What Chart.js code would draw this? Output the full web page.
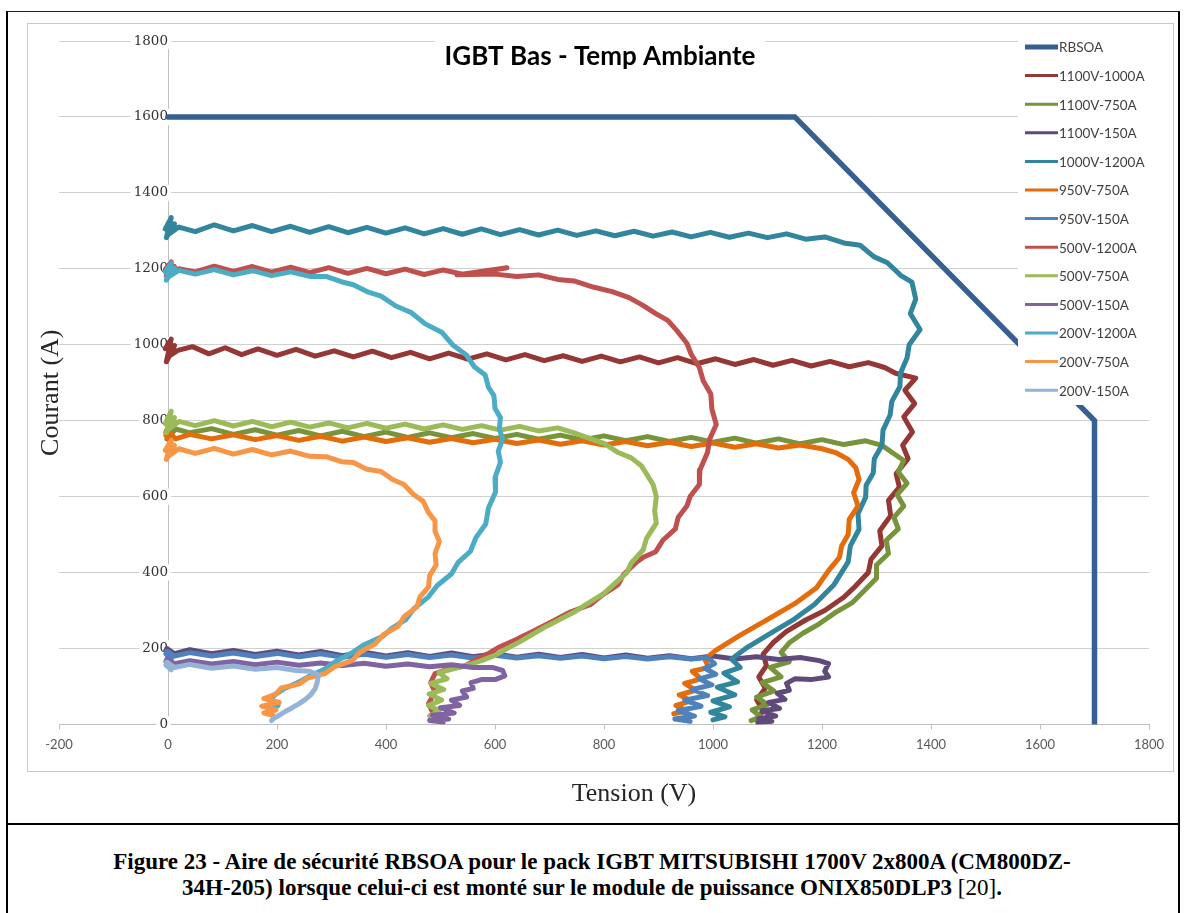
<!DOCTYPE html>
<html>
<head>
<meta charset="utf-8">
<title>IGBT Bas - Temp Ambiante</title>
<script src="https://cdn.jsdelivr.net/npm/chart.js@4.4.0/dist/chart.umd.min.js"></script>
<style>
  html, body { margin: 0; padding: 0; background: #fff; }
  body { width: 1184px; height: 913px; position: relative; overflow: hidden; }
  .frame { position: absolute; left: 6px; top: 11px; width: 1170px; height: 920px;
           border-left: 2px solid #000; border-right: 2px solid #000; border-top: 1px solid #222; }
  .sep { position: absolute; left: 6px; top: 823px; width: 1174px; border-top: 2px solid #000; }
  .chartbox { position: absolute; left: 27px; top: 23px; width: 1145px; height: 747px; border: 1px solid #c8c8c8; }
  #wrap { position: absolute; left: 8px; top: 12px; width: 1168px; height: 811px; }
  .caption { position: absolute; left: 8px; width: 1168px; top: 849px; text-align: center;
             font: bold 23px "Liberation Serif", "Times New Roman", serif; line-height: 26px; color: #000; }
  .caption .ref { font-weight: normal; }
</style>
</head>
<body>
<div class="frame"></div>
<div class="chartbox"></div>
<div id="wrap"><canvas id="soa_chart"></canvas></div>
<div class="sep"></div>
<div class="caption">Figure 23 - Aire de sécurité RBSOA pour le pack IGBT MITSUBISHI 1700V 2x800A (CM800DZ-<br>34H-205) lorsque celui-ci est monté sur le module de puissance ONIX850DLP3 <span class="ref">[20]</span>.</div>

<script>
// axes
const X_MIN = -200, X_MAX = 1800;
const Y_MIN = 0, Y_MAX = 1800;
const TICK_STEP = 200;

const chartTitle = 'IGBT Bas - Temp Ambiante';
const xTitle = 'Tension (V)';
const yTitle = 'Courant (A)';

const seriesNames = ['RBSOA', '1100V-1000A', '1100V-750A', '1100V-150A', '1000V-1200A', '950V-750A',
	'950V-150A', '500V-1200A', '500V-750A', '500V-150A', '200V-1200A', '200V-750A', '200V-150A'];
const seriesColors = ['#376092', '#953735', '#77933C', '#604A7B', '#31859C', '#E46C0A',
	'#4F81BD', '#C0504D', '#9BBB59', '#8064A2', '#4BACC6', '#F79646', '#95B3D7'];

// [tension V, courant A]
const rbsoa = [[0, 1600], [1150, 1600], [1700, 800], [1700, 0]];

const s1100V1000A = [[-5,990],[6,1015],[-3,955],[12,998],[2,970],[18,985],[45,995],[75,976],[105,992],[135,974],[165,989],[200,972],[235,988],[270,970],[305,984],[340,968],[375,983],[410,966],[445,980],[480,963],[515,978],[550,962],[585,976],[620,960],[655,974],[690,958],[725,971],[760,956],[795,970],[830,955],[865,968],[900,952],[935,966],[970,950],[1005,963],[1040,948],[1075,961],[1110,946],[1145,959],[1180,944],[1215,956],[1250,942],[1285,953],[1315,940],[1335,925],[1372,912],[1352,880],[1370,845],[1350,810],[1366,770],[1348,735],[1358,700],[1336,660],[1342,625],[1322,590],[1326,550],[1306,510],[1310,470],[1290,435],[1285,400],[1262,365],[1240,335],[1205,300],[1170,275],[1135,245],[1110,215],[1092,185],[1098,155],[1084,125],[1096,95],[1080,65],[1092,35],[1080,15]];

const s1100V750A = [[-4,770],[6,792],[-2,752],[14,778],[40,768],[80,779],[120,764],[160,776],[200,762],[240,774],[280,760],[320,772],[360,758],[400,770],[440,756],[480,768],[520,755],[560,766],[600,753],[640,764],[680,751],[720,762],[760,749],[800,760],[840,747],[880,758],[920,745],[960,756],[1000,743],[1040,754],[1080,741],[1120,752],[1160,739],[1200,750],[1240,737],[1280,747],[1310,735],[1330,715],[1350,695],[1340,665],[1356,635],[1338,605],[1350,575],[1332,545],[1340,515],[1318,485],[1322,450],[1300,420],[1300,385],[1276,350],[1255,320],[1225,295],[1195,265],[1165,240],[1140,215],[1125,190],[1140,165],[1105,150],[1125,125],[1090,110],[1112,88],[1080,72],[1100,52],[1072,38],[1088,20],[1070,10]];

const s1100V150A = [[-4,195],[6,178],[-2,200],[12,186],[40,197],[80,186],[120,195],[160,184],[200,193],[240,183],[280,192],[320,181],[360,190],[400,180],[440,189],[480,179],[520,188],[560,178],[600,186],[640,177],[680,185],[720,176],[760,184],[800,175],[840,183],[880,174],[920,181],[960,173],[1000,180],[1040,172],[1080,178],[1120,171],[1160,176],[1195,168],[1212,160],[1205,140],[1212,125],[1180,118],[1150,120],[1135,108],[1140,90],[1118,82],[1132,66],[1102,58],[1122,42],[1090,36],[1115,22],[1084,15],[1108,8],[1082,5]];

const s1000V1200A = [[-5,1305],[6,1335],[-3,1282],[12,1318],[2,1292],[20,1310],[50,1298],[85,1316],[120,1300],[155,1314],[190,1298],[225,1312],[260,1296],[295,1311],[330,1295],[365,1309],[400,1294],[435,1308],[470,1292],[505,1306],[540,1291],[575,1305],[610,1290],[645,1303],[680,1289],[715,1302],[750,1288],[785,1300],[820,1287],[855,1299],[890,1286],[925,1297],[960,1284],[995,1296],[1030,1283],[1065,1294],[1100,1282],[1135,1292],[1170,1278],[1205,1284],[1240,1268],[1270,1262],[1295,1232],[1320,1216],[1345,1182],[1365,1165],[1372,1120],[1362,1082],[1380,1040],[1360,1000],[1356,965],[1344,925],[1343,890],[1328,850],[1325,815],[1312,775],[1310,735],[1296,700],[1294,662],[1281,630],[1280,598],[1266,555],[1268,514],[1252,470],[1248,428],[1222,368],[1186,316],[1150,278],[1100,235],[1060,200],[1034,172],[1050,150],[1020,135],[1045,112],[1008,98],[1040,78],[1000,62],[1030,46],[996,32],[1022,20],[1000,12]];

const s950V750A = [[-4,762],[6,740],[-2,775],[14,752],[40,764],[80,752],[120,763],[160,750],[200,761],[240,748],[280,759],[320,746],[360,757],[400,745],[440,755],[480,743],[520,753],[560,742],[600,751],[640,740],[680,749],[720,738],[760,747],[800,736],[840,745],[880,734],[920,743],[960,732],[1000,741],[1040,730],[1080,739],[1120,728],[1160,736],[1200,726],[1225,716],[1248,698],[1262,676],[1268,645],[1258,610],[1266,575],[1250,540],[1248,500],[1236,470],[1232,440],[1212,405],[1190,360],[1150,318],[1102,278],[1050,235],[1005,195],[985,172],[992,150],[962,140],[978,120],[948,108],[968,90],[938,78],[960,62],[932,50],[952,36],[928,28]];

const s950V150A = [[-4,186],[6,172],[-2,192],[12,180],[40,189],[80,180],[120,188],[160,179],[200,187],[240,178],[280,186],[320,177],[360,185],[400,177],[440,184],[480,176],[520,183],[560,175],[600,182],[640,175],[680,181],[720,174],[760,180],[800,173],[840,179],[880,172],[920,178],[960,172],[990,176],[1003,160],[985,148],[1005,132],[975,120],[998,104],[962,92],[990,76],[948,64],[978,48],[936,36],[966,22],[930,14],[958,8]];

const s500V1200A = [[-5,1198],[6,1218],[-3,1182],[12,1206],[2,1190],[20,1200],[50,1192],[85,1207],[120,1193],[155,1206],[190,1191],[225,1204],[260,1190],[295,1203],[330,1188],[365,1201],[400,1187],[435,1199],[470,1185],[505,1197],[540,1186],[580,1193],[622,1203],[530,1184],[600,1186],[640,1180],[680,1184],[715,1172],[745,1168],[780,1152],[815,1140],[846,1124],[870,1105],[895,1082],[917,1064],[935,1035],[952,1004],[960,975],[975,940],[982,905],[996,870],[998,830],[1006,790],[994,752],[990,717],[976,670],[975,632],[958,600],[952,575],[936,545],[931,515],[908,485],[895,455],[872,440],[860,428],[836,395],[826,368],[796,340],[776,316],[738,296],[706,272],[668,244],[637,222],[608,204],[587,186],[562,168],[545,154],[515,146],[490,134],[482,110],[490,85],[478,55],[486,30]];

const s500V750A = [[-5,792],[6,825],[-3,768],[12,808],[2,778],[20,798],[50,787],[85,800],[120,786],[155,798],[190,784],[225,796],[260,783],[295,794],[330,781],[365,793],[400,780],[435,791],[470,778],[505,789],[540,777],[575,787],[610,775],[645,785],[680,773],[715,781],[745,768],[776,752],[800,740],[826,716],[850,702],[868,682],[878,660],[890,632],[896,600],[893,562],[896,530],[878,490],[872,460],[850,425],[842,400],[815,365],[800,345],[766,315],[748,298],[708,268],[690,255],[646,218],[622,200],[600,182],[575,168],[550,156],[522,146],[497,136],[512,120],[482,108],[506,92],[479,80],[502,64],[478,50],[498,36],[480,22]];

const s500V150A = [[-4,166],[6,152],[-2,172],[12,160],[40,168],[80,159],[120,166],[160,157],[200,164],[240,156],[280,162],[320,155],[360,161],[400,153],[440,159],[480,152],[520,157],[560,150],[595,150],[614,142],[618,128],[600,118],[575,118],[556,110],[560,95],[540,88],[548,72],[520,64],[535,50],[500,44],[525,30],[485,24],[515,14],[480,10],[505,6]];

const s200V1200A = [[-5,1192],[6,1215],[-3,1170],[12,1202],[2,1180],[20,1196],[50,1186],[85,1198],[120,1184],[155,1195],[190,1182],[225,1192],[260,1180],[290,1180],[318,1166],[340,1158],[365,1140],[391,1128],[418,1102],[446,1085],[472,1055],[503,1032],[522,1000],[548,972],[562,942],[582,920],[588,888],[598,866],[600,832],[610,808],[608,778],[614,752],[606,720],[610,690],[600,650],[601,612],[588,570],[583,528],[565,492],[555,456],[532,426],[520,396],[494,366],[478,336],[452,306],[436,276],[410,252],[394,232],[360,210],[337,188],[308,166],[287,145],[258,126],[238,110],[213,94],[196,78],[186,62],[202,50],[188,40]];

const s200V750A = [[-5,722],[6,748],[-3,698],[12,735],[2,708],[20,726],[50,714],[85,727],[120,712],[155,724],[190,710],[225,720],[260,706],[290,705],[318,692],[340,690],[365,672],[391,666],[412,645],[433,632],[450,606],[468,588],[478,558],[490,536],[490,508],[498,482],[490,450],[492,420],[480,392],[478,362],[462,335],[457,310],[434,285],[422,258],[395,236],[380,212],[352,190],[338,168],[306,152],[288,134],[256,122],[240,106],[208,96],[198,80],[176,68],[204,58],[172,48],[198,38],[176,30],[192,24]];

const s200V150A = [[-4,156],[6,144],[-2,164],[12,150],[40,158],[80,148],[120,154],[160,145],[200,150],[235,142],[260,140],[276,130],[274,112],[270,94],[262,78],[252,66],[240,54],[228,44],[215,34],[204,24],[194,16],[190,10]];

const seriesData = [rbsoa, s1100V1000A, s1100V750A, s1100V150A, s1000V1200A, s950V750A,
	s950V150A, s500V1200A, s500V750A, s500V150A, s200V1200A, s200V750A, s200V150A];

// Excel draws later series on top: higher order = drawn first
const datasets = seriesData.map((pts, i) => ({
	label: seriesNames[i],
	data: pts.map(([v, a]) => ({ x: v, y: a })),
	borderColor: seriesColors[i],
	backgroundColor: seriesColors[i],
	borderWidth: i === 0 ? 5.5 : 5,
	borderJoinStyle: i === 0 ? 'miter' : 'round',
	borderCapStyle: 'round',
	showLine: true,
	pointRadius: 0,
	pointHoverRadius: 0,
	tension: 0,
	order: seriesData.length - i,
}));

// title box, legend box and axis titles drawn over the plot like Excel does
const overlayPlugin = {
	id: 'excelOverlays',
	afterDatasetsDraw(chart) {
		const { ctx, chartArea: ca } = chart;
		ctx.save();

		// chart title with white box
		ctx.font = 'bold 26px Lato';
		const tx = (ca.left + ca.right) / 2 - 4;
		const tw = ctx.measureText(chartTitle).width;
		ctx.fillStyle = '#fff';
		ctx.fillRect(tx - tw / 2 - 10, ca.top - 3, tw + 20, 35);
		ctx.fillStyle = '#000';
		ctx.textAlign = 'center';
		ctx.textBaseline = 'middle';
		ctx.fillText(chartTitle, tx, ca.top + 16);

		// legend
		const lx = ca.right - 131;
		const ly = ca.top - 5;
		ctx.fillStyle = '#fff';
		ctx.fillRect(lx, ly, 147, 369);
		ctx.font = '13.5px Lato';
		ctx.textAlign = 'left';
		chart.data.datasets.forEach((ds, k) => {
			const y = ly + 11 + k * 28.6;
			ctx.strokeStyle = ds.borderColor;
			ctx.lineWidth = k === 0 ? 5 : 3;
			ctx.beginPath();
			ctx.moveTo(lx + 7, y);
			ctx.lineTo(lx + 40, y);
			ctx.stroke();
			ctx.fillStyle = '#404040';
			ctx.fillText(ds.label, lx + 41, y + 1);
		});

		// x axis title (Excel placed it a little right of centre)
		ctx.font = '26px "Liberation Serif"';
		ctx.fillStyle = '#262626';
		ctx.textAlign = 'center';
		ctx.fillText(xTitle, (ca.left + ca.right) / 2 + 30, ca.bottom + 70);

		// y axis title
		ctx.translate(ca.left - 8, (ca.top + ca.bottom) / 2 + 10);
		ctx.rotate(-Math.PI / 2);
		ctx.fillText(yTitle, 0, 0);
		ctx.restore();
	}
};

const plainNumber = (value) => String(value);

document.addEventListener('DOMContentLoaded', () => {
	const ctx = document.getElementById('soa_chart');
	// eslint-disable-next-line no-undef
	new Chart(ctx, {
		type: 'scatter',
		data: { datasets },
		options: {
			responsive: true,
			maintainAspectRatio: false,
			animation: false,
			layout: { padding: { left: 51, right: 27, top: 29, bottom: 62 } },
			plugins: {
				legend: { display: false },
				title: { display: false },
				tooltip: { enabled: false },
			},
			scales: {
				x: {
					type: 'linear',
					position: 'bottom',
					min: X_MIN,
					max: X_MAX,
					grid: { drawOnChartArea: false, drawTicks: true, tickLength: 5, color: '#bfbfbf' },
					border: { color: '#bfbfbf', width: 1 },
					ticks: {
						stepSize: TICK_STEP,
						padding: 8,
						color: '#595959',
						font: { family: 'Lato', size: 13 },
						maxRotation: 0,
						callback: plainNumber,
					},
				},
				y: {
					type: 'linear',
					position: { x: 0 },
					min: Y_MIN,
					max: Y_MAX,
					grid: { color: '#d0d0d0', drawTicks: false },
					border: { color: '#bfbfbf', width: 1 },
					ticks: {
						stepSize: TICK_STEP,
						padding: 12,
						color: '#333333',
						font: { family: 'DejaVu Serif', size: 13.5 },
						showLabelBackdrop: true,
						backdropColor: '#fff',
						backdropPadding: { top: 0, bottom: 0, left: 3, right: 3 },
						callback: plainNumber,
					},
				},
			},
		},
		plugins: [overlayPlugin],
	});
});
</script>
</body>
</html>
